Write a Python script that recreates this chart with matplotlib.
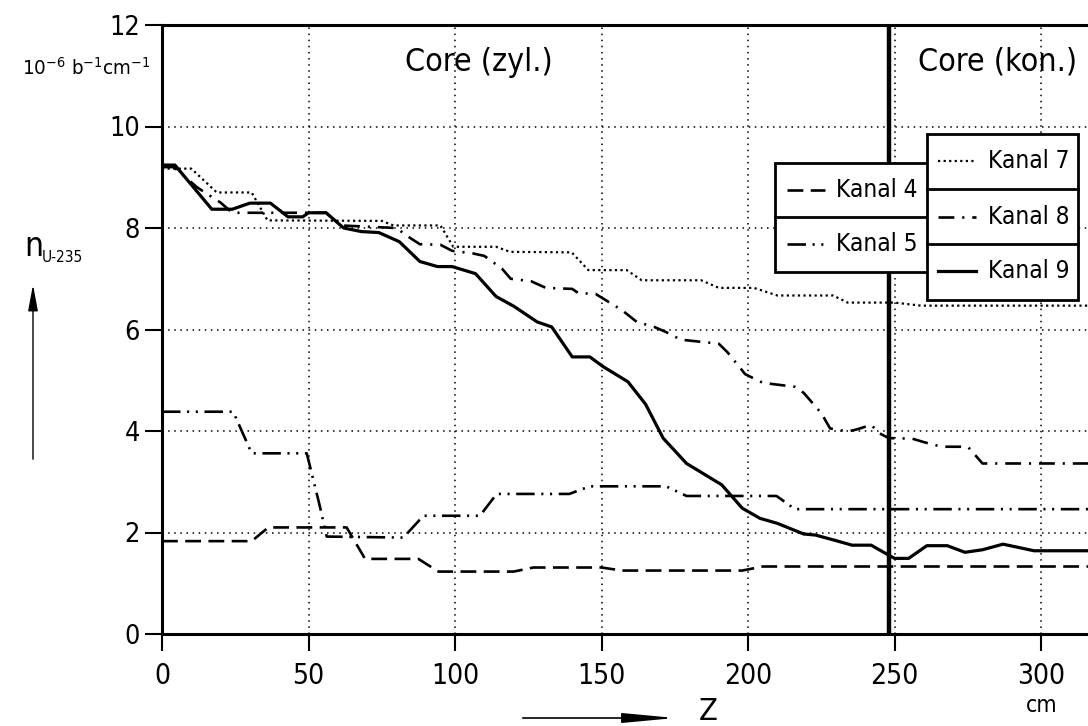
import matplotlib
matplotlib.use("Agg")
import matplotlib.pyplot as plt
from matplotlib import font_manager
from matplotlib.patches import Rectangle
from matplotlib.lines import Line2D

# pick a narrow face if one is there
fonts = font_manager.fontManager.ttflist
names = {f.name for f in fonts}
if 'Liberation Sans Narrow' in names:
    plt.rcParams['font.family'] = ['Liberation Sans Narrow', 'DejaVu Sans']
    scale = 1.0
elif any(f.name == 'DejaVu Sans' and f.stretch == 'condensed' for f in fonts):
    plt.rcParams['font.family'] = ['DejaVu Sans']
    plt.rcParams['font.stretch'] = 'condensed'
    scale = 0.92
else:
    plt.rcParams['font.family'] = ['Liberation Sans', 'DejaVu Sans']
    scale = 0.85
plt.rcParams['mathtext.default'] = 'regular'

# axial position z in cm, n_U-235 in 1e-6 b^-1 cm^-1
z4 = [0, 30.6, 36.3, 63, 69.3, 87.5, 94.3, 120, 126.7, 150, 157, 198, 205, 316]
n4 = [1.83, 1.83, 2.1, 2.1, 1.48, 1.48, 1.23, 1.23, 1.31, 1.31, 1.25, 1.25, 1.33, 1.33]

z5 = [0, 24.3, 30.6, 49.4, 53.9, 56.2, 82.4, 89.2, 108.5, 114.2, 139, 146, 172, 179, 209.7, 216, 316]
n5 = [4.38, 4.38, 3.56, 3.56, 2.51, 1.92, 1.9, 2.33, 2.33, 2.76, 2.76, 2.91, 2.91, 2.72, 2.72, 2.46, 2.46]

z7 = [0, 10, 18.7, 30.6, 36, 75, 79, 95, 99.4, 114, 118.8, 139.8, 145.5, 158.6, 163.7, 184,
      190, 202, 210, 229, 234, 250, 259, 316]
n7 = [9.17, 9.17, 8.7, 8.7, 8.15, 8.14, 8.05, 8.05, 7.63, 7.63, 7.53, 7.52, 7.17, 7.17, 6.97, 6.97,
      6.82, 6.82, 6.67, 6.67, 6.53, 6.53, 6.47, 6.47]

z8 = [0, 4, 12, 20, 24, 56, 61, 80, 84, 88, 95, 99, 106, 110, 116, 119, 126, 131, 140, 142, 148,
      157, 162, 168, 172, 177, 190, 193, 199, 205, 216, 219, 225, 228, 234, 237, 242, 245, 248,
      256, 260, 266, 275, 280, 316]
n8 = [9.2, 9.2, 8.8, 8.5, 8.3, 8.3, 8.05, 8.0, 7.83, 7.68, 7.67, 7.55, 7.5, 7.45, 7.2, 7.0, 6.95,
      6.82, 6.8, 6.72, 6.7, 6.38, 6.15, 6.05, 5.95, 5.8, 5.72, 5.55, 5.12, 4.95, 4.87, 4.75, 4.35,
      4.05, 3.99, 4.03, 4.12, 3.95, 3.86, 3.85, 3.78, 3.69, 3.69, 3.36, 3.36]

z9 = [0, 4.4, 17, 24, 30, 37, 43, 48, 50, 56, 62, 68, 74, 81, 88, 94, 99, 107, 114, 120, 128, 133,
      140, 146, 150.5, 159, 165, 171, 179, 191, 198, 204, 210, 219, 223, 230, 235.5, 242, 247.8,
      250, 254.8, 261, 268, 274, 280, 287, 297.6, 316]
n9 = [9.24, 9.24, 8.37, 8.37, 8.49, 8.49, 8.22, 8.22, 8.3, 8.3, 8.0, 7.93, 7.91, 7.73, 7.34, 7.24,
      7.24, 7.1, 6.65, 6.46, 6.15, 6.05, 5.46, 5.46, 5.27, 4.97, 4.53, 3.86, 3.36, 2.94, 2.48, 2.28,
      2.18, 1.97, 1.95, 1.84, 1.75, 1.75, 1.56, 1.49, 1.49, 1.74, 1.74, 1.61, 1.66, 1.77, 1.64, 1.64]

core_boundary = 248
x_ticks = [0, 50, 100, 150, 200, 250, 300]
y_ticks = [0, 2, 4, 6, 8, 10, 12]

styles = {
    'Kanal 4': (0, (6, 2.8)),
    'Kanal 5': (0, (7, 2.5, 0.8, 2.5, 0.8, 2.5)),
    'Kanal 7': (0, (1, 1.5)),
    'Kanal 8': (0, (6, 3, 0.8, 3)),
    'Kanal 9': '-',
}

W, H = 1088, 726
fig = plt.figure(figsize=(W / 100, H / 100), dpi=100)
ax = fig.add_axes([162 / W, 1 - 634 / H, 926 / W, (634 - 25) / H])


def fx(px):
    return px / W


def fy(py):
    return 1 - py / H


ax.plot(z4, n4, color='k', lw=1.9, ls=styles['Kanal 4'])
ax.plot(z5, n5, color='k', lw=1.9, ls=styles['Kanal 5'])
ax.plot(z7, n7, color='k', lw=1.6, ls=styles['Kanal 7'])
ax.plot(z8, n8, color='k', lw=1.9, ls=styles['Kanal 8'])
ax.plot(z9, n9, color='k', lw=2.3, ls=styles['Kanal 9'])
ax.axvline(core_boundary, color='k', lw=3.2)

ax.set_xlim(0, 316)
ax.set_ylim(0, 12)
ax.set_xticks(x_ticks)
ax.set_yticks(y_ticks)
ax.tick_params(direction='out', length=12, width=1.5, labelsize=22 * scale, pad=8)
ax.tick_params(axis='y', labelsize=21 * scale, pad=4)
ax.grid(True, color='k', lw=1.1, ls=(0, (1, 3)))
for s in ['left', 'bottom', 'top']:
    ax.spines[s].set_linewidth(2.2)
ax.spines['right'].set_visible(False)

ax.text(108, 11.27, 'Core (zyl.)', fontsize=25 * scale, ha='center', va='center')
ax.text(285, 11.27, 'Core (kon.)', fontsize=25 * scale, ha='center', va='center')

# axis annotations
fig.text(fx(22), fy(75), '10$^{-6}$ b$^{-1}$cm$^{-1}$', fontsize=16 * scale, ha='left', va='baseline')
fig.text(fx(24), fy(256), 'n', fontsize=26 * scale, ha='left', va='baseline')
fig.text(fx(42), fy(262), 'U-235', fontsize=12 * scale, ha='left', va='baseline')
fig.text(fx(1042), fy(706), 'cm', fontsize=18 * scale, ha='center', va='center')
fig.text(fx(708), fy(711), 'Z', fontsize=24 * scale, ha='center', va='center')
fig.add_artist(plt.Annotation('', xy=(fx(33), fy(282)), xytext=(fx(33), fy(462)),
                              xycoords='figure fraction', textcoords='figure fraction',
                              arrowprops=dict(arrowstyle='-|>,head_length=0.8,head_width=0.15',
                                              color='k', lw=1, mutation_scale=20)))
fig.add_artist(plt.Annotation('', xy=(fx(678), fy(718)), xytext=(fx(520), fy(718)),
                              xycoords='figure fraction', textcoords='figure fraction',
                              arrowprops=dict(arrowstyle='-|>,head_length=1.6,head_width=0.15',
                                              color='k', lw=1.2, mutation_scale=20)))

# legend boxes
boxes = [
    (775, 163, 932, 272, [('Kanal 4', 190), ('Kanal 5', 244)], 787, 825, 836),
    (927, 134, 1078, 300, [('Kanal 7', 161), ('Kanal 8', 217), ('Kanal 9', 271)], 938, 976, 988),
]
for i, (x0, y0, x1, y1, items, lx0, lx1, tx) in enumerate(boxes):
    zo = 10 + 2 * i
    fig.add_artist(Rectangle((fx(x0), fy(y1)), fx(x1) - fx(x0), fy(y0) - fy(y1),
                             transform=fig.transFigure, facecolor='white', edgecolor='k',
                             lw=2, zorder=zo))
    for j, (name, yc) in enumerate(items):
        if j > 0:
            yd = (items[j - 1][1] + yc) / 2
            fig.add_artist(Line2D([fx(x0), fx(x1)], [fy(yd), fy(yd)], transform=fig.transFigure,
                                  color='k', lw=2, zorder=zo + 1))
        lw = 2.3 if name == 'Kanal 9' else (1.6 if name == 'Kanal 7' else 1.9)
        fig.add_artist(Line2D([fx(lx0), fx(lx1)], [fy(yc), fy(yc)], transform=fig.transFigure,
                              color='k', lw=lw, ls=styles[name], zorder=zo + 1))
        fig.text(fx(tx), fy(yc), name, fontsize=19 * scale, ha='left', va='center',
                 zorder=zo + 1)

fig.savefig('out.png', dpi=100)
